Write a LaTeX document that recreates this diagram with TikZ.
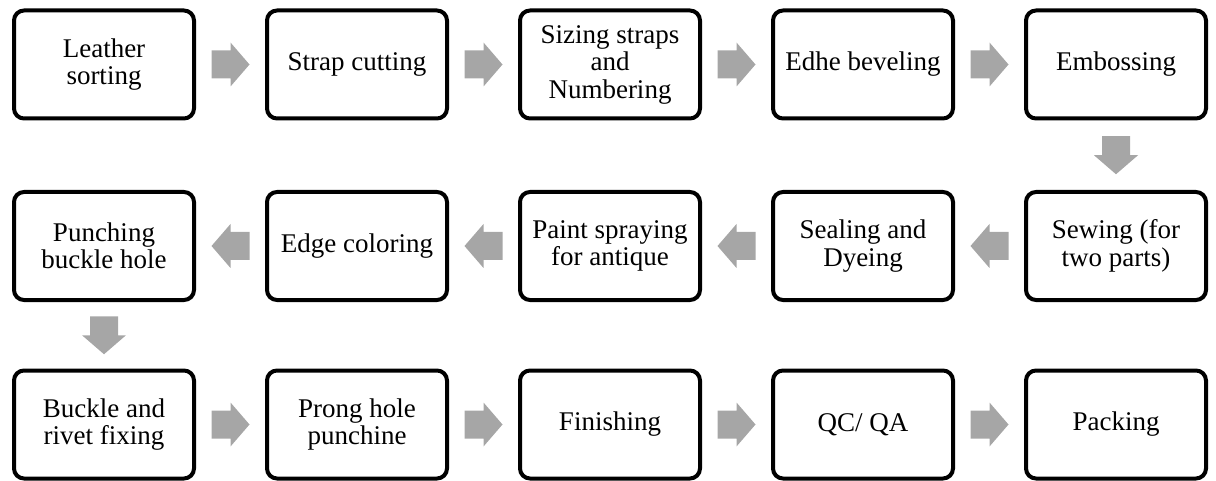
\documentclass[tikz,border=0pt]{standalone}
\usepackage{fontspec}
\setmainfont{Liberation Serif}
\usetikzlibrary{calc}
\definecolor{arrowgray}{RGB}{166,166,166}
\newcommand{\blockarr}[3]{%
  \path ($(#1)!0.5!(#2)$) coordinate (m);
  \fill[arrowgray, shift={(m)}, rotate=#3] (-19,-14) -- (0,-14) -- (0,-22) -- (19,0) -- (0,22) -- (0,14) -- (-19,14) -- cycle;}
\begin{document}
\begin{tikzpicture}[x=1pt,y=1pt,
  stepbox/.style={draw=black, line width=4pt, rounded corners=10pt, fill=white,
    minimum width=180pt, minimum height=108pt, inner sep=0pt, align=center,
    font=\fontsize{27pt}{27.5pt}\selectfont}]
\useasboundingbox (0,0) rectangle (1216,-481);
% row 1
\node[stepbox] (a1) at (104,-64.5) {Leather\\sorting};
\node[stepbox] (a2) at (357,-64.5) {Strap cutting};
\node[stepbox] (a3) at (610,-64.5) {Sizing straps\\and\\Numbering};
\node[stepbox] (a4) at (863,-64.5) {Edhe beveling};
\node[stepbox] (a5) at (1116,-64.5) {Embossing};
% row 2
\node[stepbox] (b5) at (1116,-246) {Sewing (for\\two parts)};
\node[stepbox] (b4) at (863,-246) {Sealing and\\Dyeing};
\node[stepbox] (b3) at (610,-246) {Paint spraying\\for antique};
\node[stepbox] (b2) at (357,-246) {Edge coloring};
\node[stepbox] (b1) at (104,-246) {Punching\\buckle hole};
% row 3
\node[stepbox] (c1) at (104,-424.5) {Buckle and\\rivet fixing};
\node[stepbox] (c2) at (357,-424.5) {Prong hole\\punchine};
\node[stepbox] (c3) at (610,-424.5) {Finishing};
\node[stepbox] (c4) at (863,-424.5) {QC/ QA};
\node[stepbox] (c5) at (1116,-424.5) {Packing};
% arrows
\blockarr{a1}{a2}{0}
\blockarr{a2}{a3}{0}
\blockarr{a3}{a4}{0}
\blockarr{a4}{a5}{0}
\blockarr{a5}{b5}{-90}
\blockarr{b5}{b4}{180}
\blockarr{b4}{b3}{180}
\blockarr{b3}{b2}{180}
\blockarr{b2}{b1}{180}
\blockarr{b1}{c1}{-90}
\blockarr{c1}{c2}{0}
\blockarr{c2}{c3}{0}
\blockarr{c3}{c4}{0}
\blockarr{c4}{c5}{0}
\end{tikzpicture}
\end{document}
